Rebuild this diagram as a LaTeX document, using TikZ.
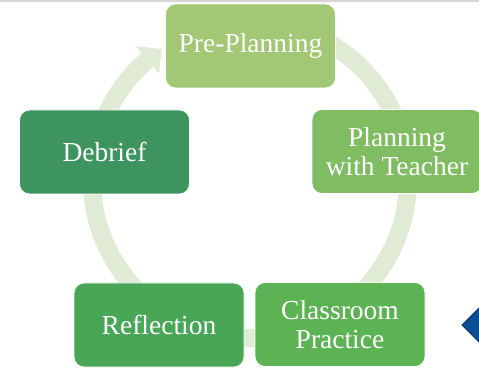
\documentclass[tikz,border=0pt]{standalone}
\usepackage{fontspec}
\setmainfont{Liberation Serif}
\usetikzlibrary{calc}
\definecolor{cPre}{RGB}{162,199,117}
\definecolor{cPlan}{RGB}{128,188,98}
\definecolor{cClass}{RGB}{93,179,84}
\definecolor{cRefl}{RGB}{74,166,87}
\definecolor{cDeb}{RGB}{62,148,94}
\definecolor{cBand}{RGB}{224,235,214}
\definecolor{cTopLine}{RGB}{214,214,214}
\definecolor{cDiamond}{RGB}{12,78,148}
\definecolor{cDiamondEdge}{RGB}{6,52,112}
\tikzset{
  stepbox/.style={rectangle, rounded corners=10pt, draw=white, line width=0.8pt,
    minimum width=170pt, minimum height=84pt, align=center, text=white,
    font=\fontsize{27.5}{29}\selectfont, inner sep=0pt},
  band/.style={line width=18pt, draw=cBand},
}
\begin{document}
\begin{tikzpicture}[x=1pt,y=-1pt]
  \useasboundingbox (0,0) rectangle (479,371);
  \clip (0,0) rectangle (479,371);
  \fill[white] (0,0) rectangle (479,371);
  % thin rule along the top edge
  \fill[cTopLine] (0,0) rectangle (479,2);

  % continuous cycle arrow behind the steps
  \coordinate (c) at (250,180);
  \draw[band] ($(c)+(-85:158)$) arc[start angle=-85, end angle=230, radius=158];
  \fill[cBand] ($(c)+(229.5:140)$) -- ($(c)+(229.5:176)$) -- ($(c)+(236:158)$) -- cycle;

  % steps of the cycle
  \node[stepbox, fill=cPre]   (pre)   at (250.5,46)  {Pre-Planning};
  \node[stepbox, fill=cPlan]  (plan)  at (397,151.5) {Planning\\with Teacher};
  \node[stepbox, fill=cClass] (class) at (340,324.5) {Classroom\\Practice};
  \node[stepbox, fill=cRefl]  (refl)  at (159,325)   {Reflection};
  \node[stepbox, fill=cDeb]   (deb)   at (104.5,152) {Debrief};

  % blue diamond cut by the right edge
  \filldraw[fill=cDiamond, draw=cDiamondEdge, line width=0.8pt]
    (462,325) -- (480,307) -- (498,325) -- (480,343) -- cycle;
\end{tikzpicture}
\end{document}
